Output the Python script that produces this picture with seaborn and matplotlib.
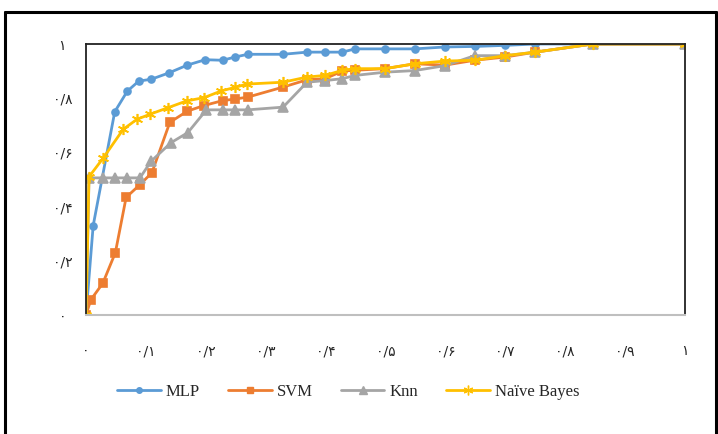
import matplotlib
matplotlib.use("Agg")
import matplotlib.pyplot as plt
from matplotlib.lines import Line2D
import seaborn as sns

# ROC points
mlp_fpr = [0, 0.012, 0.048, 0.069, 0.088, 0.109, 0.138, 0.169, 0.199, 0.228, 0.249, 0.270, 0.329,
           0.369, 0.399, 0.428, 0.449, 0.499, 0.549, 0.599, 0.649, 0.700, 0.750, 0.846, 1.0]
mlp_tpr = [0, 0.33, 0.75, 0.826, 0.863, 0.87, 0.893, 0.922, 0.942, 0.94, 0.952, 0.962, 0.962,
           0.970, 0.970, 0.970, 0.982, 0.982, 0.982, 0.989, 0.991, 0.995, 1.0, 1.0, 1.0]

svm_fpr = [0, 0.008, 0.028, 0.049, 0.067, 0.090, 0.110, 0.140, 0.169, 0.197, 0.228, 0.249, 0.270,
           0.329, 0.369, 0.399, 0.428, 0.449, 0.499, 0.549, 0.599, 0.649, 0.700, 0.750, 0.846, 1.0]
svm_tpr = [0, 0.056, 0.117, 0.23, 0.434, 0.481, 0.525, 0.711, 0.752, 0.773, 0.791, 0.797, 0.804,
           0.841, 0.868, 0.872, 0.90, 0.903, 0.909, 0.927, 0.922, 0.94, 0.952, 0.97, 1.0, 1.0]

knn_fpr = [0, 0.005, 0.028, 0.048, 0.069, 0.090, 0.109, 0.142, 0.170, 0.201, 0.228, 0.249, 0.270,
           0.329, 0.369, 0.399, 0.428, 0.449, 0.499, 0.549, 0.599, 0.649, 0.700, 0.750, 0.846, 1.0]
knn_tpr = [0, 0.506, 0.506, 0.506, 0.506, 0.506, 0.568, 0.636, 0.673, 0.757, 0.757, 0.757, 0.757,
           0.767, 0.859, 0.865, 0.872, 0.884, 0.896, 0.902, 0.92, 0.957, 0.957, 0.97, 1.0, 1.0]

nb_fpr = [0, 0.005, 0.029, 0.062, 0.085, 0.107, 0.137, 0.168, 0.197, 0.226, 0.249, 0.268, 0.329,
          0.369, 0.399, 0.428, 0.449, 0.499, 0.549, 0.599, 0.649, 0.700, 0.750, 0.846, 1.0]
nb_tpr = [0, 0.51, 0.58, 0.685, 0.722, 0.741, 0.765, 0.79, 0.802, 0.827, 0.84, 0.852, 0.859,
          0.878, 0.884, 0.903, 0.909, 0.909, 0.927, 0.937, 0.94, 0.957, 0.97, 1.0, 1.0]

tick_vals = [0, 0.1, 0.2, 0.3, 0.4, 0.5, 0.6, 0.7, 0.8, 0.9, 1.0]
x_labels = ["۰", "۰/۱", "۰/۲", "۰/۳", "۰/۴", "۰/۵", "۰/۶", "۰/۷", "۰/۸", "۰/۹", "۱"]
y_ticks = [0, 0.2, 0.4, 0.6, 0.8, 1.0]
y_labels = ["۰", "۰/۲", "۰/۴", "۰/۶", "۰/۸", "۱"]

sns.set_style("white")
plt.rcParams["font.family"] = ["DejaVu Sans"]

fig = plt.figure(figsize=(7.18, 4.34), dpi=100)
ax = fig.add_axes([86 / 718, 1 - 315 / 434, (685 - 86) / 718, (315 - 44) / 434])

series = [
    ("MLP", mlp_fpr, mlp_tpr, "#5b9bd5", "o", 5),
    ("SVM", svm_fpr, svm_tpr, "#ed7d31", "s", 6),
    ("Knn", knn_fpr, knn_tpr, "#a5a5a5", "^", 7),
    ("Naïve Bayes", nb_fpr, nb_tpr, "#ffc000", (6, 2, 0), 8),
]

handles = []
for name, xs, ys, col, mk, ms in series:
    sns.lineplot(x=xs, y=ys, ax=ax, sort=False, estimator=None, color=col, linewidth=2.0,
                 marker=mk, markersize=ms, markerfacecolor=col, markeredgecolor=col,
                 markeredgewidth=1.2)
    handles.append(Line2D([], [], color=col, linewidth=2.0, marker=mk, markersize=ms - 1,
                          markerfacecolor=col, markeredgecolor=col, label=name))

ax.set_xlim(0, 1)
ax.set_ylim(0, 1)
ax.set_xticks(tick_vals)
ax.set_xticklabels(x_labels, fontsize=10)
ax.set_yticks(y_ticks)
ax.set_yticklabels(y_labels, fontsize=10, ha="center")
ax.tick_params(axis="x", length=0, pad=21)
ax.tick_params(axis="y", length=0, pad=17)

for side in ["top", "left", "right"]:
    ax.spines[side].set_color("#222222")
    ax.spines[side].set_linewidth(1.3)
ax.spines["bottom"].set_color("#bfbfbf")
ax.spines["bottom"].set_linewidth(1.5)

fig.legend(handles=handles, loc="center", bbox_to_anchor=(0.485, 1 - 392 / 434), ncol=4,
           frameon=False, handlelength=2.6, columnspacing=1.7, handletextpad=0.3,
           prop={"family": "Liberation Serif", "size": 12})

# outer frame around the whole picture
fig.add_artist(Line2D([5 / 718, 716 / 718], [1 - 12 / 434, 1 - 12 / 434], color="black", linewidth=2.2))
fig.add_artist(Line2D([5 / 718, 5 / 718], [1 - 12 / 434, 0], color="black", linewidth=2.2))
fig.add_artist(Line2D([716 / 718, 716 / 718], [1 - 12 / 434, 0], color="black", linewidth=2.2))

fig.savefig("out.png", dpi=100)
